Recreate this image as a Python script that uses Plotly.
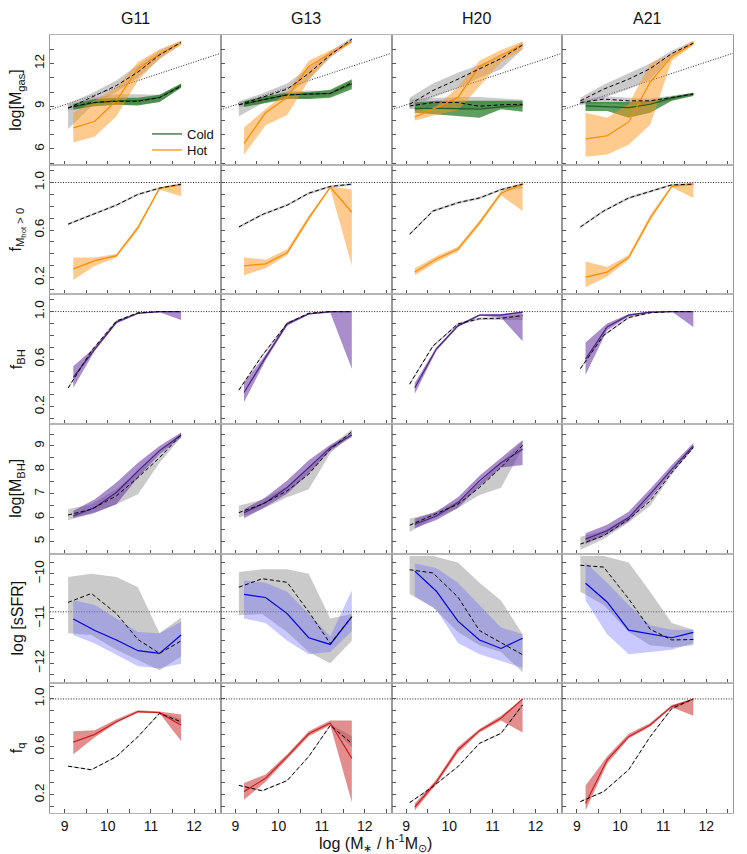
import plotly.graph_objects as go
from plotly.subplots import make_subplots

MODELS = ["G11", "G13", "H20", "A21"]
X_MOD = [9.2, 9.7, 10.2, 10.7, 11.2, 11.7]
X_REF = [9.08, 9.62, 10.2, 10.7, 11.2, 11.7]
X_RANGE = [8.66, 12.62]

# ---- row 1 : log M_gas (cold / hot) ----
COLD_MED = [[8.95, 9.26, 9.38, 9.38, 9.62, 10.45],
            [9.14, 9.5, 9.8, 9.86, 9.9, 10.57],
            [8.83, 8.86, 8.83, 8.8, 8.95, 9.07],
            [9.02, 8.95, 8.9, 9.14, 9.57, 9.86]]
COLD_LO = [[8.75, 9.0, 9.1, 9.05, 9.3, 10.3],
           [8.95, 9.2, 9.5, 9.5, 9.6, 10.2],
           [8.55, 8.43, 8.31, 8.2, 8.79, 8.62],
           [8.67, 8.67, 8.2, 8.55, 9.38, 9.74]]
COLD_HI = [[9.15, 9.5, 9.6, 9.6, 9.8, 10.6],
           [9.35, 9.7, 9.95, 10.0, 10.15, 10.9],
           [9.26, 9.38, 9.43, 9.38, 9.38, 9.38],
           [9.3, 9.3, 9.3, 9.4, 9.7, 9.95]]
COLD_REF = [[8.9, 9.26, 9.35, 9.35, 9.6, 10.4],
            [9.1, 9.45, 9.8, 9.85, 9.9, 10.65],
            [9.02, 9.26, 9.26, 9.0, 9.1, 9.14],
            [9.26, 9.5, 9.38, 9.38, 9.62, 9.86]]
COLD_REF_LO = [[8.7, 9.0, 9.1, 9.1, 9.3, 10.3],
               [8.9, 9.25, 9.55, 9.55, 9.7, 10.4],
               [8.8, 8.8, 8.7, 8.9, 8.9, 8.9],
               [9.1, 9.2, 9.1, 9.1, 9.4, 9.7]]
COLD_REF_HI = [[9.1, 9.6, 9.85, 9.85, 9.8, 10.55],
               [9.3, 9.65, 10.05, 10.1, 10.05, 10.8],
               [9.5, 9.6, 9.65, 9.65, 9.55, 9.45],
               [9.45, 9.7, 9.6, 9.55, 9.75, 9.95]]
HOT_MED = [[7.48, 7.95, 9.4, 11.64, 12.64, 13.48],
           [6.4, 8.55, 9.62, 11.8, 12.7, 13.55],
           [8.24, 8.9, 9.62, 11.8, 12.6, 13.3],
           [6.71, 6.93, 7.9, 10.7, 12.5, 13.43]]
HOT_LO = [[6.45, 6.88, 8.3, 10.8, 12.36, 13.3],
          [5.62, 7.67, 8.38, 10.8, 12.5, 13.45],
          [8.0, 8.4, 8.7, 10.4, 12.1, 13.0],
          [5.45, 5.62, 6.3, 7.7, 12.2, 13.3]]
HOT_HI = [[8.55, 9.4, 10.3, 12.1, 13.0, 13.6],
          [7.5, 8.8, 10.0, 12.2, 12.9, 13.65],
          [8.7, 9.0, 10.35, 12.2, 12.95, 13.55],
          [8.55, 8.2, 9.14, 12.0, 12.7, 13.6]]
HOT_REF = [[8.86, 9.6, 10.45, 11.4, 12.6, 13.48],
           [9.1, 9.62, 10.2, 11.3, 12.6, 13.7],
           [9.14, 10.1, 10.9, 11.6, 12.35, 13.3],
           [9.38, 10.2, 10.9, 11.64, 12.7, 13.43]]
HOT_REF_LO = [[7.4, 9.0, 10.0, 11.0, 12.3, 13.35],
              [8.3, 9.2, 9.8, 10.9, 12.4, 13.5],
              [8.8, 9.6, 10.3, 11.0, 11.6, 13.0],
              [9.1, 9.6, 10.2, 10.9, 12.5, 13.3]]
HOT_REF_HI = [[9.2, 9.9, 10.8, 11.9, 12.9, 13.6],
              [9.35, 9.9, 10.6, 11.7, 12.85, 13.85],
              [9.6, 10.6, 11.35, 11.9, 12.5, 13.55],
              [9.6, 10.5, 11.3, 12.0, 12.9, 13.6]]
GAS_REF_OFFSET = 0.1   # dotted line: log M_gas = log M* + offset

# ---- row 2 : f(M_hot > 0) ----
FHOT_MED = [[0.274, 0.343, 0.385, 0.62, 0.953, 0.98],
            [0.30, 0.316, 0.41, 0.70, 0.96, 0.75],
            [0.247, 0.357, 0.44, 0.66, 0.91, 0.986],
            [0.205, 0.247, 0.37, 0.70, 0.967, 0.986]]
FHOT_LO = [[0.18, 0.30, 0.37, 0.60, 0.94, 0.884],
           [0.22, 0.28, 0.39, 0.68, 0.95, 0.30],
           [0.22, 0.33, 0.42, 0.64, 0.89, 0.76],
           [0.12, 0.21, 0.35, 0.68, 0.96, 0.87]]
FHOT_HI = [[0.37, 0.37, 0.40, 0.64, 0.96, 0.99],
           [0.37, 0.35, 0.44, 0.72, 0.97, 0.94],
           [0.28, 0.38, 0.46, 0.68, 0.93, 1.0],
           [0.335, 0.29, 0.39, 0.73, 0.98, 0.995]]
FHOT_REF = [[0.65, 0.73, 0.81, 0.90, 0.953, 0.986],
            [0.626, 0.73, 0.81, 0.91, 0.967, 0.986],
            [0.565, 0.76, 0.83, 0.87, 0.94, 0.986],
            [0.626, 0.76, 0.87, 0.925, 0.98, 0.986]]
FHOT_REF_LO = [[0.64, 0.72, 0.80, 0.89, 0.945, 0.975],
               [0.616, 0.72, 0.80, 0.90, 0.955, 0.975],
               [0.555, 0.75, 0.82, 0.86, 0.93, 0.95],
               [0.616, 0.75, 0.86, 0.915, 0.97, 0.975]]
FHOT_REF_HI = [[0.66, 0.74, 0.82, 0.91, 0.96, 0.995],
               [0.636, 0.74, 0.82, 0.92, 0.975, 0.995],
               [0.575, 0.77, 0.84, 0.88, 0.95, 0.995],
               [0.636, 0.77, 0.88, 0.935, 0.99, 0.995]]

# ---- row 3 : f_BH ----
FBH_MED = [[0.447, 0.685, 0.91, 0.986, 1.0, 1.0],
           [0.32, 0.615, 0.896, 0.98, 1.0, 1.0],
           [0.36, 0.685, 0.88, 0.97, 0.97, 0.995],
           [0.60, 0.87, 0.97, 0.995, 1.0, 1.0]]
FBH_LO = [[0.36, 0.67, 0.90, 0.98, 0.995, 0.93],
          [0.24, 0.59, 0.88, 0.975, 0.99, 0.52],
          [0.31, 0.67, 0.87, 0.965, 0.95, 0.75],
          [0.47, 0.84, 0.96, 0.99, 1.0, 0.87]]
FBH_HI = [[0.54, 0.70, 0.92, 0.99, 1.0, 1.0],
          [0.40, 0.64, 0.91, 0.985, 1.0, 1.0],
          [0.40, 0.70, 0.89, 0.975, 0.98, 1.0],
          [0.74, 0.90, 0.98, 1.0, 1.0, 1.0]]
FBH_REF = [[0.357, 0.67, 0.92, 0.99, 1.0, 1.0],
           [0.34, 0.63, 0.90, 0.986, 1.0, 1.0],
           [0.39, 0.71, 0.896, 0.94, 0.944, 0.966],
           [0.52, 0.80, 0.95, 0.99, 1.0, 1.0]]
FBH_REF_LO = [[0.35, 0.66, 0.91, 0.985, 0.995, 0.995],
              [0.33, 0.62, 0.89, 0.98, 0.995, 0.995],
              [0.38, 0.70, 0.886, 0.93, 0.93, 0.93],
              [0.51, 0.79, 0.94, 0.985, 0.995, 0.995]]
FBH_REF_HI = [[0.365, 0.68, 0.93, 0.995, 1.0, 1.0],
              [0.35, 0.64, 0.91, 0.99, 1.0, 1.0],
              [0.40, 0.72, 0.906, 0.95, 0.955, 0.975],
              [0.53, 0.81, 0.96, 0.995, 1.0, 1.0]]

# ---- row 4 : log M_BH ----
MBH_MED = [[6.07, 6.42, 7.05, 7.95, 8.8, 9.46],
           [6.21, 6.63, 7.26, 8.1, 8.93, 9.46],
           [5.72, 6.07, 6.63, 7.54, 8.3, 8.86],
           [5.1, 5.45, 6.0, 6.98, 8.02, 9.0]]
MBH_LO = [[5.98, 6.21, 6.56, 7.68, 8.65, 9.35],
          [5.97, 6.45, 7.0, 7.85, 8.8, 9.38],
          [5.55, 5.9, 6.4, 7.3, 8.1, 8.2],
          [4.9, 5.3, 5.85, 6.8, 7.9, 8.9]]
MBH_HI = [[6.28, 6.77, 7.47, 8.3, 9.0, 9.56],
          [6.35, 6.85, 7.55, 8.4, 9.05, 9.55],
          [5.95, 6.25, 6.85, 7.75, 8.5, 9.25],
          [5.35, 5.7, 6.25, 7.2, 8.2, 9.12]]
MBH_REF = [[6.11, 6.35, 6.91, 7.68, 8.51, 9.46],
           [6.21, 6.56, 7.12, 7.82, 8.86, 9.6],
           [5.68, 6.1, 6.56, 7.26, 8.1, 9.03],
           [4.89, 5.24, 5.93, 6.7, 7.88, 8.93]]
MBH_REF_LO = [[5.9, 6.14, 6.56, 6.98, 8.3, 9.35],
              [6.0, 6.35, 6.85, 7.19, 8.7, 9.5],
              [5.4, 5.95, 6.4, 6.95, 7.25, 8.9],
              [4.65, 5.1, 5.8, 6.5, 7.8, 8.9]]
MBH_REF_HI = [[6.35, 6.56, 7.2, 7.9, 8.7, 9.55],
              [6.5, 6.75, 7.3, 8.1, 9.0, 9.7],
              [5.95, 6.2, 6.7, 7.45, 8.3, 9.2],
              [5.2, 5.45, 6.05, 6.85, 7.95, 9.0]]

# ---- row 5 : log sSFR ----
SSFR_MED = [[-11.01, -11.27, -11.48, -11.72, -11.78, -11.37],
            [-10.46, -10.53, -10.89, -11.43, -11.58, -10.96],
            [-9.94, -10.39, -11.06, -11.48, -11.67, -11.44],
            [-10.21, -10.63, -11.26, -11.35, -11.43, -11.31]]
SSFR_LO = [[-11.37, -11.56, -11.81, -12.07, -12.11, -12.01],
           [-11.0, -11.1, -11.5, -11.8, -11.75, -11.28],
           [-10.5, -10.8, -11.55, -11.8, -11.95, -12.1],
           [-10.6, -11.35, -11.8, -11.75, -11.7, -11.55]]
SSFR_HI = [[-10.59, -10.7, -11.0, -11.3, -11.33, -11.07],
           [-10.15, -10.2, -10.4, -10.9, -11.4, -10.37],
           [-9.77, -9.87, -10.2, -10.7, -11.2, -11.35],
           [-9.75, -10.2, -10.7, -11.15, -11.25, -11.25]]
SSFR_REF = [[-10.64, -10.44, -10.89, -11.47, -11.78, -11.5],
            [-10.3, -10.11, -10.19, -10.85, -11.56, -10.96],
            [-9.91, -9.98, -10.52, -11.27, -11.54, -11.81],
            [-9.81, -9.85, -10.56, -11.24, -11.48, -11.47]]
SSFR_REF_LO = [[-11.33, -11.37, -11.7, -11.93, -12.16, -11.85],
               [-10.93, -10.9, -11.3, -11.75, -12.0, -11.5],
               [-10.45, -10.75, -11.3, -11.6, -11.75, -12.2],
               [-10.4, -10.7, -11.3, -11.6, -11.65, -11.6]]
SSFR_REF_HI = [[-10.07, -10.0, -10.07, -10.3, -11.33, -10.98],
               [-9.96, -9.9, -9.9, -10.0, -11.0, -10.9],
               [-9.6, -9.6, -9.75, -10.2, -10.6, -11.35],
               [-9.6, -9.6, -9.75, -10.4, -11.1, -11.25]]
SSFR_CUT = -10.85

# ---- row 6 : f_q ----
FQ_MED = [[0.64, 0.705, 0.81, 0.895, 0.886, 0.78],
          [0.228, 0.34, 0.52, 0.71, 0.80, 0.505],
          [0.10, 0.31, 0.575, 0.736, 0.84, 1.0],
          [0.13, 0.49, 0.686, 0.783, 0.936, 1.0]]
FQ_LO = [[0.54, 0.68, 0.80, 0.885, 0.88, 0.65],
         [0.16, 0.31, 0.50, 0.69, 0.78, 0.14],
         [0.07, 0.29, 0.55, 0.72, 0.82, 0.72],
         [0.07, 0.46, 0.67, 0.77, 0.93, 0.86]]
FQ_HI = [[0.73, 0.74, 0.83, 0.905, 0.895, 0.87],
         [0.30, 0.37, 0.54, 0.73, 0.82, 0.82],
         [0.13, 0.33, 0.60, 0.75, 0.86, 1.0],
         [0.28, 0.52, 0.71, 0.80, 0.95, 1.0]]
FQ_REF = [[0.44, 0.41, 0.52, 0.686, 0.88, 0.81],
          [0.28, 0.235, 0.32, 0.52, 0.78, 0.63],
          [0.136, 0.27, 0.436, 0.63, 0.714, 0.95],
          [0.145, 0.228, 0.41, 0.686, 0.92, 1.0]]
FQ_REF_LO = [[0.435, 0.405, 0.515, 0.68, 0.87, 0.79],
             [0.275, 0.23, 0.315, 0.515, 0.77, 0.60],
             [0.131, 0.265, 0.43, 0.625, 0.705, 0.94],
             [0.14, 0.223, 0.405, 0.68, 0.91, 0.99]]
FQ_REF_HI = [[0.445, 0.415, 0.525, 0.69, 0.89, 0.83],
             [0.285, 0.24, 0.325, 0.525, 0.79, 0.69],
             [0.141, 0.275, 0.44, 0.635, 0.72, 0.96],
             [0.15, 0.233, 0.415, 0.69, 0.93, 1.0]]

Y_TITLES = ["log[M<sub>gas</sub>]", "f<sub>M<sub>hot</sub> > 0</sub>", "f<sub>BH</sub>",
            "log[M<sub>BH</sub>]", "log [sSFR]", "f<sub>q</sub>"]
Y_RANGES = [[4.9, 14.0], [0.06, 1.15], [0.055, 1.145], [4.49, 9.92], [-12.45, -9.55], [0.05, 1.13]]
# (tick0, labelled step, minor step) per row
Y_TICK0 = [0, 0.2, 0.2, 0, 0, 0.2]
Y_DTICK = [3, 0.4, 0.4, 1, 1, 0.4]
Y_MINOR = [1, 0.1, 0.1, 0.5, 0.25, 0.1]
X_TICK0, X_DTICK, X_MINOR = 0, 1, 0.5
UNITY = 1.0

GREY_FILL = "rgba(150,150,150,0.5)"
C_GREEN = ("#1d5e1d", "rgba(20,110,20,0.68)")
C_ORANGE = ("#ff8c00", "rgba(255,150,30,0.5)")
C_PURPLE = ("#4b2383", "rgba(100,50,160,0.55)")
C_BLUE = ("#0000dd", "rgba(100,100,255,0.35)")
C_RED = ("#cc2020", "rgba(200,30,30,0.5)")

FONT = "Liberation Sans, Arial, sans-serif"

fig = make_subplots(rows=6, cols=4, horizontal_spacing=0, vertical_spacing=0)


def band(x, lo, hi, fill, r, c):
    fig.add_trace(go.Scatter(x=list(x) + list(x)[::-1], y=list(lo) + list(hi)[::-1],
                             fill="toself", fillcolor=fill, line=dict(width=0),
                             mode="lines", showlegend=False, hoverinfo="skip"), row=r, col=c)


def line(x, y, color, r, c, dash=None, name=None, legend=None, width=1.2):
    fig.add_trace(go.Scatter(x=x, y=y, mode="lines", name=name, showlegend=legend is not None,
                             legend=legend, line=dict(color=color, width=width, dash=dash)),
                  row=r, col=c)


ROWS = [
    [(COLD_MED, COLD_LO, COLD_HI, COLD_REF, COLD_REF_LO, COLD_REF_HI, C_GREEN, "Cold"),
     (HOT_MED, HOT_LO, HOT_HI, HOT_REF, HOT_REF_LO, HOT_REF_HI, C_ORANGE, "Hot")],
    [(FHOT_MED, FHOT_LO, FHOT_HI, FHOT_REF, FHOT_REF_LO, FHOT_REF_HI, C_ORANGE, None)],
    [(FBH_MED, FBH_LO, FBH_HI, FBH_REF, FBH_REF_LO, FBH_REF_HI, C_PURPLE, None)],
    [(MBH_MED, MBH_LO, MBH_HI, MBH_REF, MBH_REF_LO, MBH_REF_HI, C_PURPLE, None)],
    [(SSFR_MED, SSFR_LO, SSFR_HI, SSFR_REF, SSFR_REF_LO, SSFR_REF_HI, C_BLUE, None)],
    [(FQ_MED, FQ_LO, FQ_HI, FQ_REF, FQ_REF_LO, FQ_REF_HI, C_RED, None)],
]
LEGEND_IDS = {"Cold": "legend", "Hot": "legend2"}
DOT = "1px,1.6px"

for ri, comps in enumerate(ROWS):
    r = ri + 1
    for ci in range(4):
        c = ci + 1
        if ri == 0:
            line(X_RANGE, [v + GAS_REF_OFFSET for v in X_RANGE], "#222222", r, c, dash=DOT, width=1)
        elif ri in (1, 2, 5):
            line(X_RANGE, [UNITY, UNITY], "#222222", r, c, dash=DOT, width=1)
        elif ri == 4:
            line(X_RANGE, [SSFR_CUT, SSFR_CUT], "#222222", r, c, dash=DOT, width=1)
        for comp in comps:
            band(X_REF, comp[4][ci], comp[5][ci], GREY_FILL, r, c)
        for comp in comps:
            band(X_MOD, comp[1][ci], comp[2][ci], comp[6][1], r, c)
        for comp in comps:
            lg = LEGEND_IDS.get(comp[7]) if (ri == 0 and ci == 0) else None
            line(X_MOD, comp[0][ci], comp[6][0], r, c, name=comp[7], legend=lg)
        for comp in comps:
            line(X_REF, comp[3][ci], "#000000", r, c, dash="4px,2.5px", width=1)

axis_common = dict(showline=True, mirror=True,
                   ticks="inside", ticklen=4, tickcolor="#555555", tickwidth=1,
                   showgrid=False, zeroline=False, automargin=False, tickmode="linear")

for ri in range(6):
    for ci in range(4):
        r, c = ri + 1, ci + 1
        fig.update_xaxes(range=X_RANGE, tick0=X_TICK0, dtick=X_DTICK,
                         minor=dict(tick0=X_TICK0, dtick=X_MINOR, ticks="inside", ticklen=4,
                                    tickcolor="#555555", showgrid=False),
                         showticklabels=(ri == 5), linecolor="#b4b4b4", linewidth=1.3,
                         tickfont=dict(family=FONT, size=14, color="#111111"),
                         row=r, col=c, **axis_common)
        fig.update_yaxes(range=Y_RANGES[ri], tick0=Y_TICK0[ri], dtick=Y_DTICK[ri],
                         minor=dict(tick0=Y_TICK0[ri], dtick=Y_MINOR[ri], ticks="inside",
                                    ticklen=4, tickcolor="#555555", showgrid=False),
                         showticklabels=(ci == 0), tickangle=-90, linecolor="#9a9a9a",
                         linewidth=1,
                         tickformat=(".1f" if Y_DTICK[ri] < 1 else "d"),
                         tickfont=dict(family=FONT, size=13.5, color="#111111"),
                         row=r, col=c, **axis_common)

ML, MR, MT, MB = 50, 14, 35, 41
W, H = 747, 854
PW, PH = W - ML - MR, H - MT - MB

annotations = []
for ci, m in enumerate(MODELS):
    annotations.append(dict(text=m, x=(ci + 0.5) / 4, y=1 + 17 / PH, xref="paper", yref="paper",
                            xanchor="center", yanchor="middle", showarrow=False,
                            font=dict(family=FONT, size=16, color="#111111")))
for ri, t in enumerate(Y_TITLES):
    annotations.append(dict(text=t, x=(17 - ML) / PW, y=1 - (ri + 0.5) / 6, xref="paper",
                            yref="paper", textangle=-90, xanchor="center", yanchor="middle",
                            showarrow=False, font=dict(family=FONT, size=16, color="#111111")))
annotations.append(dict(text="log (M<sub>\u2217</sub> / h<sup>-1</sup>M<sub>\u2299</sub>)",
                        x=(375 - ML) / PW, y=-(843 - (MT + PH)) / PH, xref="paper", yref="paper",
                        xanchor="center", yanchor="middle", showarrow=False,
                        font=dict(family=FONT, size=16, color="#111111")))

leg_common = dict(xanchor="left", yanchor="middle", bgcolor="rgba(0,0,0,0)",
                  font=dict(family=FONT, size=13, color="#111111"), itemwidth=30)
fig.update_layout(
    width=W, height=H, margin=dict(l=ML, r=MR, t=MT, b=MB),
    plot_bgcolor="white", paper_bgcolor="white",
    font=dict(family=FONT, color="#111111"),
    annotations=annotations,
    showlegend=True,
    legend=dict(x=(147 - ML) / PW, y=1 - (134 - MT) / PH, **leg_common),
    legend2=dict(x=(147 - ML) / PW, y=1 - (150 - MT) / PH, **leg_common),
)

fig.write_html("out.html", config={"displayModeBar": False},
               post_script="document.body.style.margin='0px';")
